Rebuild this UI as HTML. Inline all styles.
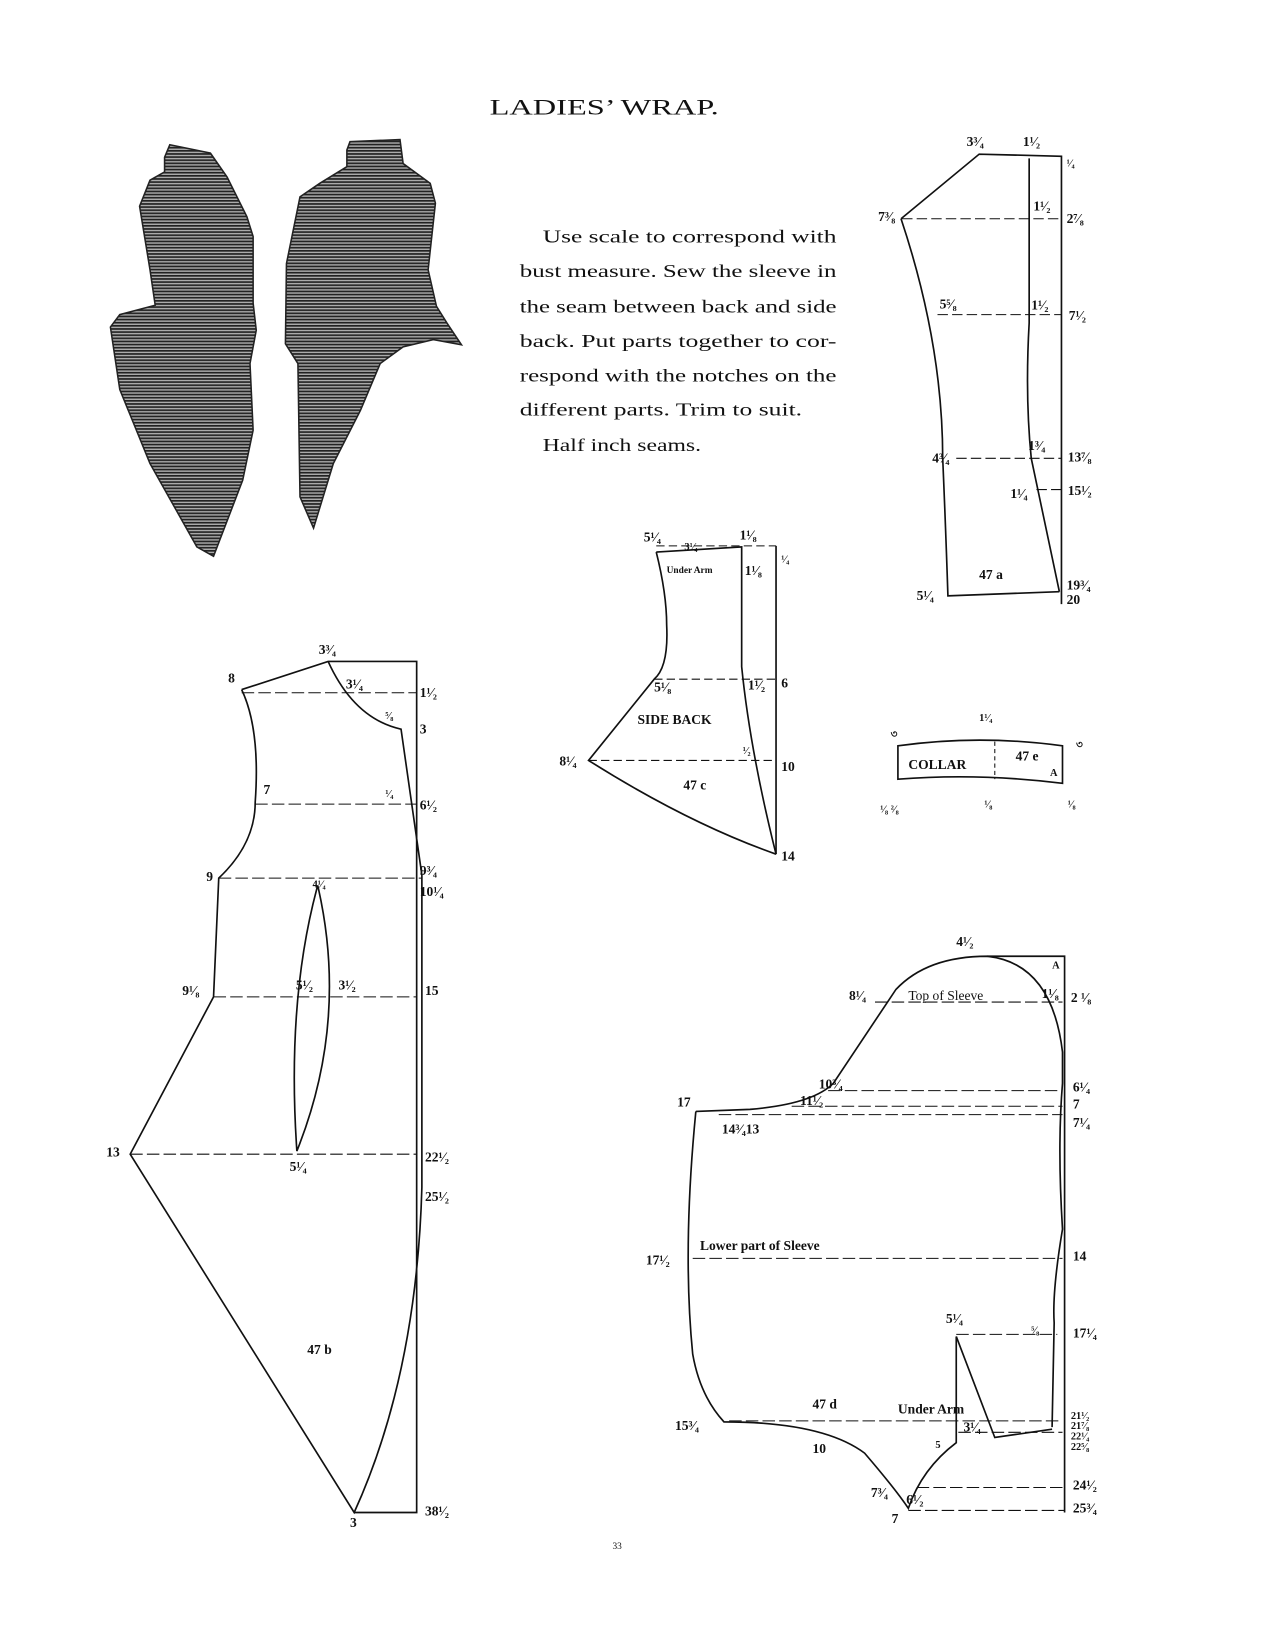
<!DOCTYPE html>
<html><head><meta charset="utf-8"><style>
html,body{margin:0;padding:0;background:#fff}
svg{display:block}
text{font-family:"Liberation Serif",serif;fill:#111}
.b{font-weight:bold;font-size:13px}
.s{font-size:10px;font-weight:bold}
</style></head><body>
<svg width="1275" height="1650" viewBox="0 0 1224 1584" xmlns="http://www.w3.org/2000/svg">
<defs>
<pattern id="h" width="4" height="3" patternUnits="userSpaceOnUse"><rect width="4" height="3" fill="#aaa"/><rect width="4" height="1.6" fill="#222"/></pattern>
</defs>
<rect width="1224" height="1584" fill="#fff"/>
<text x="470" y="110" font-size="21" textLength="220" lengthAdjust="spacingAndGlyphs">LADIES’ WRAP.</text>
<!-- illustrations -->
<path d="M163,139 L202,147 L218,170 L237,208 L243,227 L243,291 L246,317 L240,349 L243,413 L233,461 L205,534 L189,525 L144,445 L115,374 L106,314 L115,302 L149,293 L144,259 L134,198 L144,173 L158,165 L158,151 Z" fill="url(#h)" stroke="#222" stroke-width="1.5"/>
<path d="M336,136 L384,134 L387,157 L413,176 L418,195 L411,259 L419,294 L429,310 L443,331 L416,326 L387,333 L365,349 L346,394 L320,445 L301,507 L288,477 L286,349 L274,330 L275,253 L288,189 L307,176 L333,160 L333,144 Z" fill="url(#h)" stroke="#222" stroke-width="1.5"/>
<!-- paragraph -->
<g font-size="17" fill="#222">
<text x="521" y="233" textLength="282" lengthAdjust="spacingAndGlyphs">Use scale to correspond with</text>
<text x="499" y="266" textLength="304" lengthAdjust="spacingAndGlyphs">bust measure.  Sew the sleeve in</text>
<text x="499" y="300" textLength="304" lengthAdjust="spacingAndGlyphs">the seam between back and side</text>
<text x="499" y="333" textLength="304" lengthAdjust="spacingAndGlyphs">back.  Put parts together to cor-</text>
<text x="499" y="366" textLength="304" lengthAdjust="spacingAndGlyphs">respond with the notches on the</text>
<text x="499" y="399" textLength="271" lengthAdjust="spacingAndGlyphs">different parts.   Trim to suit.</text>
<text x="521" y="433" textLength="152" lengthAdjust="spacingAndGlyphs">Half inch seams.</text>
</g>
<g fill="none" stroke="#111" stroke-width="1.6">
<!-- 47a -->
<path d="M865,210 L940,148 L1019,150 L1019,580"/>
<path d="M865,210 Q905,330 905,440 Q908,510 910,572 L1017,568"/>
<path d="M988,152 L988,310 Q984,380 990,440 Q1005,510 1017,568"/>
</g>
<g stroke="#111" stroke-width="1" stroke-dasharray="10,4">
<line x1="866" y1="210" x2="1019" y2="210"/><line x1="900" y1="302" x2="1019" y2="302"/>
<line x1="918" y1="440" x2="1019" y2="440"/><line x1="995" y1="470" x2="1019" y2="470"/>
</g>
<g class="b">
<text x="928" y="140">3³⁄₄</text><text x="982" y="140">1¹⁄₂</text><text x="1024" y="160" class="s">¹⁄₄</text>
<text x="843" y="212">7³⁄₈</text><text x="992" y="202">1¹⁄₂</text><text x="1024" y="214">2⁷⁄₈</text>
<text x="902" y="296">5⁵⁄₈</text><text x="990" y="297">1¹⁄₂</text><text x="1026" y="307">7¹⁄₂</text>
<text x="895" y="444">4³⁄₄</text><text x="987" y="432">1³⁄₄</text><text x="1025" y="443">13⁷⁄₈</text>
<text x="970" y="478">1¹⁄₄</text><text x="1025" y="475">15¹⁄₂</text>
<text x="940" y="556">47 a</text><text x="880" y="576">5¹⁄₄</text><text x="1024" y="566">19³⁄₄</text><text x="1024" y="580">20</text>
</g>
<!-- 47c -->
<g fill="none" stroke="#111" stroke-width="1.6">
<path d="M630,530 L712,525 L712,640 Q720,720 745,820"/>
<path d="M630,530 Q640,570 640,600 Q642,640 628,652 L565,730 Q660,790 745,820"/>
<path d="M745,524 L745,820"/>
</g>
<g stroke="#111" stroke-width="1" stroke-dasharray="8,4">
<line x1="628" y1="652" x2="745" y2="652"/><line x1="565" y1="730" x2="745" y2="730"/><line x1="630" y1="524" x2="745" y2="524"/>
</g>
<g class="b">
<text x="618" y="520">5¹⁄₄</text><text x="657" y="528" class="s">3¹⁄₄</text><text x="710" y="518">1¹⁄₈</text><text x="750" y="540" class="s">¹⁄₄</text>
<text x="640" y="550" font-size="9">Under Arm</text><text x="715" y="552">1¹⁄₈</text>
<text x="628" y="664">5¹⁄₈</text><text x="718" y="662">1¹⁄₂</text><text x="750" y="660">6</text>
<text x="612" y="695">SIDE BACK</text><text x="713" y="724" class="s">¹⁄₂</text>
<text x="537" y="735">8¹⁄₄</text><text x="750" y="740">10</text><text x="656" y="758">47 c</text><text x="750" y="826">14</text>
</g>
<!-- collar -->
<path d="M862,748 L862,716 Q940,705 1020,716 L1020,752 Q940,742 862,748 Z" fill="none" stroke="#111" stroke-width="1.6"/>
<line x1="955" y1="712" x2="955" y2="748" stroke="#111" stroke-dasharray="4,3"/>
<g class="b"><text x="872" y="738">COLLAR</text><text x="975" y="730">47 e</text><text x="1008" y="745" class="s">A</text>
<text x="855" y="708" class="s">৩</text><text x="940" y="692" class="s">1¹⁄₄</text><text x="1033" y="718" class="s">৩</text>
<text x="845" y="780" class="s">¹⁄₈ ²⁄₈</text><text x="945" y="775" class="s">¹⁄₈</text><text x="1025" y="775" class="s">¹⁄₈</text></g>
<!-- 47b -->
<g fill="none" stroke="#111" stroke-width="1.6">
<path d="M232,662 L315,635 L400,635 L400,1452 L340,1452"/>
<path d="M315,635 Q340,690 385,700 L405,840 L405,1140 Q400,1320 340,1452 L125,1108 L205,957 L210,843 Q245,810 245,770 Q250,700 232,662"/>
<path d="M305,850 Q275,960 285,1105 Q335,980 305,850"/>
</g>
<g stroke="#111" stroke-width="1" stroke-dasharray="12,4">
<line x1="232" y1="665" x2="400" y2="665"/><line x1="245" y1="772" x2="400" y2="772"/>
<line x1="210" y1="843" x2="405" y2="843"/><line x1="205" y1="957" x2="400" y2="957"/>
<line x1="125" y1="1108" x2="400" y2="1108"/>
</g>
<g class="b">
<text x="306" y="628">3³⁄₄</text><text x="219" y="655">8</text><text x="332" y="661">3¹⁄₄</text><text x="403" y="669">1¹⁄₂</text>
<text x="370" y="690" class="s">⁵⁄₈</text><text x="403" y="704">3</text><text x="253" y="762">7</text><text x="370" y="765" class="s">¹⁄₄</text><text x="403" y="777">6¹⁄₂</text>
<text x="198" y="846">9</text><text x="403" y="840">9³⁄₄</text><text x="300" y="852" class="s">4¹⁄₄</text><text x="403" y="860">10¹⁄₄</text>
<text x="175" y="955">9¹⁄₈</text><text x="284" y="950">5¹⁄₂</text><text x="325" y="950">3¹⁄₂</text><text x="408" y="955">15</text>
<text x="102" y="1110">13</text><text x="278" y="1124">5¹⁄₄</text><text x="408" y="1115">22¹⁄₂</text><text x="408" y="1153">25¹⁄₂</text>
<text x="295" y="1300">47 b</text><text x="336" y="1466">3</text><text x="408" y="1455">38¹⁄₂</text>
</g>
<!-- 47d -->
<g fill="none" stroke="#111" stroke-width="1.6">
<path d="M948,918 L1022,918 L1022,1452"/>
<path d="M668,1067 L720,1065 Q780,1060 800,1040 Q840,980 860,950 Q890,918 948,918 Q1010,925 1020,1010 L1020,1040 Q1015,1100 1020,1180 Q1010,1240 1012,1270 L1010,1370"/>
<path d="M668,1067 Q655,1200 665,1300 Q672,1340 695,1365 Q790,1365 830,1395 Q860,1430 872,1448 Q885,1410 918,1385 L918,1283"/>
<path d="M918,1283 L955,1380 L1010,1372"/>
</g>
<g stroke="#111" stroke-width="1" stroke-dasharray="12,4">
<line x1="840" y1="962" x2="1020" y2="962"/>
<line x1="795" y1="1047" x2="1020" y2="1047"/><line x1="760" y1="1062" x2="1020" y2="1062"/><line x1="690" y1="1070" x2="1020" y2="1070"/>
<line x1="665" y1="1208" x2="1020" y2="1208"/><line x1="918" y1="1281" x2="1015" y2="1281"/>
<line x1="700" y1="1364" x2="1020" y2="1364"/><line x1="920" y1="1375" x2="1020" y2="1375"/>
<line x1="880" y1="1428" x2="1022" y2="1428"/><line x1="872" y1="1450" x2="1022" y2="1450"/>
</g>
<g class="b">
<text x="918" y="908">4¹⁄₂</text><text x="1010" y="930" class="s">A</text><text x="815" y="960">8¹⁄₄</text>
<text x="872" y="960" font-weight="normal">Top of Sleeve</text><text x="1000" y="958">1¹⁄₈</text><text x="1028" y="962">2 ¹⁄₈</text>
<text x="786" y="1045">10³⁄₄</text><text x="1030" y="1048">6¹⁄₄</text><text x="768" y="1061">11¹⁄₂</text><text x="1030" y="1064">7</text>
<text x="650" y="1062">17</text><text x="693" y="1088">14³⁄₄13</text><text x="1030" y="1082">7¹⁄₄</text>
<text x="672" y="1200">Lower part of Sleeve</text><text x="620" y="1214">17¹⁄₂</text><text x="1030" y="1210">14</text>
<text x="908" y="1270">5¹⁄₄</text><text x="990" y="1280" class="s">⁵⁄₈</text><text x="1030" y="1284">17¹⁄₄</text>
<text x="780" y="1352">47 d</text><text x="862" y="1357">Under Arm</text><text x="925" y="1374">3¹⁄₄</text>
<text x="648" y="1373">15³⁄₄</text><text x="898" y="1390" class="s">5</text><text x="780" y="1395">10</text>
<text x="1028" y="1362" class="s">21¹⁄₂</text><text x="1028" y="1372" class="s">21⁷⁄₈</text><text x="1028" y="1382" class="s">22¹⁄₄</text><text x="1028" y="1392" class="s">22⁵⁄₈</text>
<text x="836" y="1437">7³⁄₄</text><text x="870" y="1444">6¹⁄₂</text><text x="1030" y="1430">24¹⁄₂</text>
<text x="856" y="1462">7</text><text x="1030" y="1452">25³⁄₄</text>
</g>
<text x="588" y="1487" font-size="9">33</text>
</svg>
</body></html>
